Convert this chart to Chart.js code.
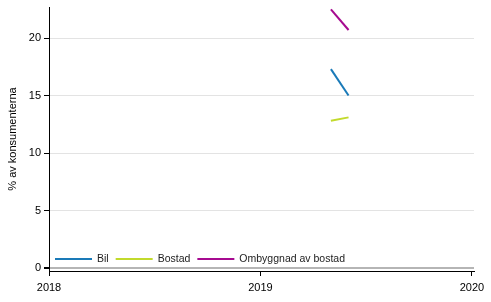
<!DOCTYPE html>
<html>
<head>
<meta charset="utf-8">
<script src="https://cdn.jsdelivr.net/npm/chart.js@4"></script>
<style>
    html, body { margin: 0; padding: 0; background: #fff; }
    #wrap { width: 491px; height: 302px; position: relative; }
</style>
</head>
<body>
<div id="wrap"><canvas id="chart"></canvas></div>
<script>
// months (year-month) and values in % of consumers
const months = ["2019-05", "2019-06"];
const bil = [17.3, 15.0];
const bostad = [12.8, 13.1];
const ombyggnad = [22.5, 20.7];

const yTicks = [0, 5, 10, 15, 20];
const xTicks = [2018, 2019, 2020];

const FONT = "'Liberation Sans', Arial, sans-serif";

// month label -> decimal year
const toYear = (m) => {
    const [y, mo] = m.split("-").map(Number);
    return y + (mo - 1) / 12;
};

const toPoints = (vals) => months.map((m, i) => ({ x: toYear(m), y: vals[i] }));

// -----------------------------
// LEGEND INSIDE CHART AREA
// -----------------------------
const innerLegend = {
    id: "innerLegend",
    afterDraw(chart) {
        const ctx = chart.ctx;
        const area = chart.chartArea;
        let x = area.left + 6;
        const y = area.bottom - 12;
        ctx.save();
        ctx.font = "10.5px " + FONT;
        ctx.textBaseline = "middle";
        chart.data.datasets.forEach(ds => {
            ctx.strokeStyle = ds.borderColor;
            ctx.lineWidth = 2;
            ctx.beginPath();
            ctx.moveTo(x, y);
            ctx.lineTo(x + 37, y);
            ctx.stroke();
            x += 42;
            ctx.fillStyle = "#222";
            ctx.fillText(ds.label, x, y);
            x += ctx.measureText(ds.label).width + 7;
        });
        ctx.restore();
    }
};

new Chart(document.getElementById("chart"), {
    type: "line",
    data: {
        datasets: [
            { label: "Bil", data: toPoints(bil), borderColor: "#1a7ab8" },
            { label: "Bostad", data: toPoints(bostad), borderColor: "#c2da2c" },
            { label: "Ombyggnad av bostad", data: toPoints(ombyggnad), borderColor: "#a60a90" }
        ]
    },
    options: {
        responsive: true,
        maintainAspectRatio: false,
        animation: false,
        layout: { padding: { top: 7, right: 17, left: 0, bottom: 0 } },
        elements: {
            line: { borderWidth: 2, tension: 0 },
            point: { radius: 0 }
        },
        plugins: {
            legend: { display: false },
            tooltip: { enabled: false }
        },
        scales: {
            x: {
                type: "linear",
                min: 2018,
                max: 2020.01,
                afterBuildTicks: (scale) => {
                    scale.ticks = xTicks.map(v => ({ value: v }));
                },
                afterFit: (scale) => { scale.height = 31; },
                border: { color: "#000", width: 1 },
                grid: {
                    drawOnChartArea: false,
                    tickColor: "#000",
                    tickLength: 5
                },
                ticks: {
                    color: "#000",
                    font: { family: FONT, size: 11 },
                    padding: 5,
                    maxRotation: 0,
                    callback: (v) => String(v)
                }
            },
            y: {
                min: -0.26,
                max: 22.7,
                afterBuildTicks: (scale) => {
                    scale.ticks = yTicks.map(v => ({ value: v }));
                },
                afterFit: (scale) => {
                    scale.width = 49;
                    scale.paddingTop = 0;
                    scale.paddingBottom = 0;
                },
                border: { color: "#000", width: 1 },
                grid: {
                    color: (c) => c.tick && c.tick.value === 0 ? "#b5b5b5" : "#e3e3e3",
                    lineWidth: (c) => c.tick && c.tick.value === 0 ? 2 : 1,
                    tickColor: "#000",
                    tickLength: 5
                },
                title: {
                    display: true,
                    text: "% av konsumenterna",
                    color: "#000",
                    font: { family: FONT, size: 11 },
                    padding: { top: 6, bottom: 0 }
                },
                ticks: {
                    color: "#000",
                    font: { family: FONT, size: 11 },
                    padding: 3
                }
            }
        }
    },
    plugins: [innerLegend]
});
</script>
</body>
</html>
